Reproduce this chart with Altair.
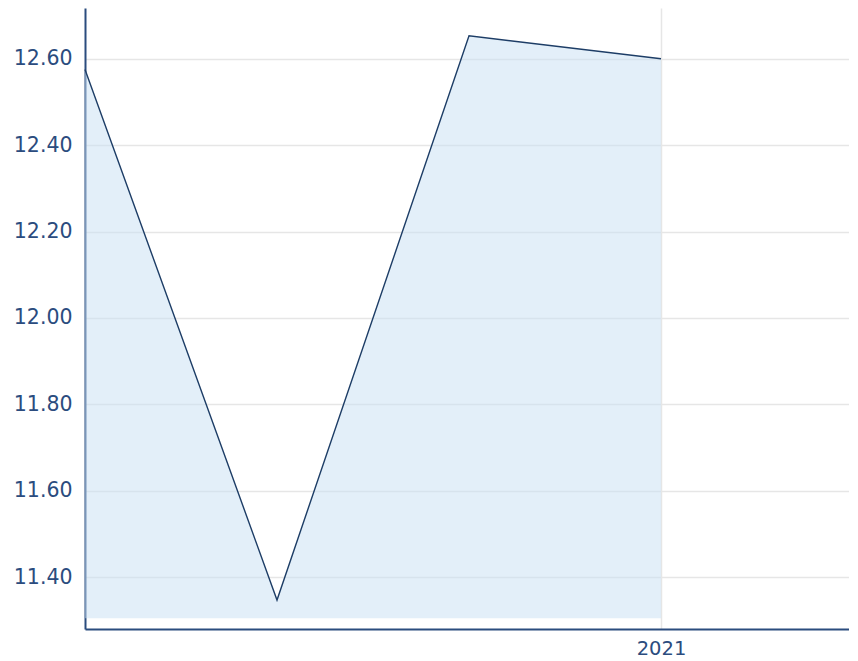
import altair as alt
import pandas as pd

# quarterly observations (index positions along the x axis)
period_index = [0, 1, 2, 3]
values = [12.575, 11.347, 12.653, 12.60]
area_base = 11.305

x_domain = [0, 3.979]
x_tick_values = [3]
x_tick_labels = ["2021"]

y_domain = [11.28, 12.7175]
y_tick_values = [11.4, 11.6, 11.8, 12.0, 12.2, 12.4, 12.6]

df = pd.DataFrame({"i": period_index, "v": values, "base": [area_base] * len(values)})

label_expr = " : ".join(
    [f"datum.value == {v} ? '{l}'" for v, l in zip(x_tick_values, x_tick_labels)] + ["''"]
)

axis_color = "#2b4c7e"
font = "DejaVu Sans"

x_enc = alt.X(
    "i:Q",
    scale=alt.Scale(domain=x_domain, nice=False, zero=False),
    axis=alt.Axis(
        values=x_tick_values,
        labelExpr=label_expr,
        title=None,
        ticks=False,
        grid=True,
        gridColor="#e6e6e6",
        gridWidth=1.5,
        domainColor=axis_color,
        domainWidth=2,
        labelColor=axis_color,
        labelFont=font,
        labelFontSize=19.5,
        labelPadding=10,
        zindex=0,
    ),
)

y_scale = alt.Scale(domain=y_domain, nice=False, zero=False)

area = alt.Chart(df).mark_area(color="#c8dff3", opacity=0.5).encode(
    x=x_enc,
    y=alt.Y(
        "v:Q",
        scale=y_scale,
        axis=alt.Axis(
            values=y_tick_values,
            format=".2f",
            title=None,
            ticks=False,
            grid=True,
            gridColor="#e6e6e6",
            gridWidth=1.5,
            domainColor=axis_color,
            domainWidth=2,
            labelColor=axis_color,
            labelFont=font,
            labelFontSize=20.5,
            labelPadding=13,
            zindex=0,
        ),
    ),
    y2="base:Q",
)

line = alt.Chart(df).mark_line(color="#1d3d66", strokeWidth=1.4).encode(
    x=alt.X("i:Q", scale=alt.Scale(domain=x_domain, nice=False, zero=False)),
    y=alt.Y("v:Q", scale=y_scale),
)

chart = (
    alt.layer(area, line)
    .properties(width=764, height=621, padding={"left": 5, "top": 0, "right": 0, "bottom": 5})
    .configure_view(strokeWidth=0)
)

chart.save("out.html", embed_options={"renderer": "svg", "actions": False})
